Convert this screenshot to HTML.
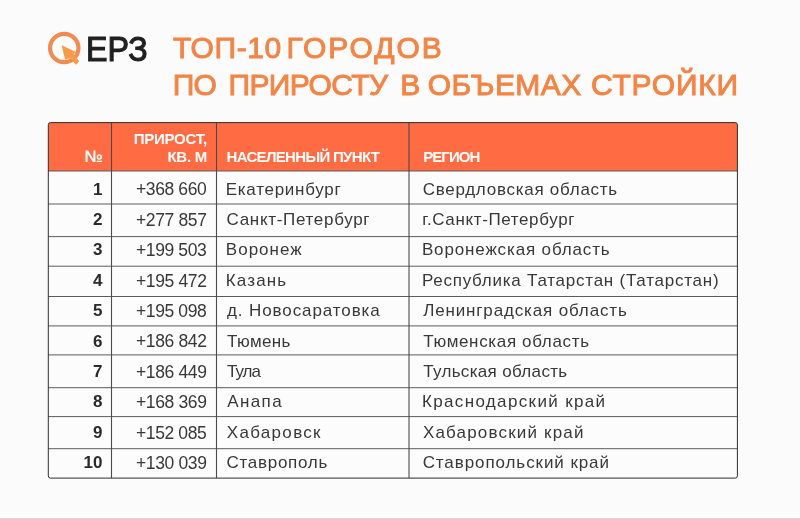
<!DOCTYPE html>
<html lang="ru"><head><meta charset="utf-8"><title>ТОП-10 городов по приросту в объемах стройки</title>
<style>
html,body{margin:0;padding:0;}
body{width:800px;height:519px;background:#fbfbfb;position:relative;overflow:hidden;font-family:"Liberation Sans",sans-serif;}
.a{position:absolute;white-space:nowrap;margin:0;padding:0;}
h1{margin:0;padding:0;font-size:0;line-height:0;height:0;}
.title{color:#F28546;font-weight:normal;-webkit-text-stroke:0.95px #F28546;font-size:30px;line-height:36px;}
.logo-text{left:86.2px;top:29.2px;font-size:35.6px;line-height:40px;color:#202020;font-weight:normal;-webkit-text-stroke:1.1px #202020;transform-origin:0 0;transform:scaleX(0.906);}
.h{color:#fff;font-weight:bold;font-size:15px;line-height:18px;}
.r{font-size:17px;line-height:30px;height:30px;color:#383838;}
.n{font-weight:bold;text-align:right;color:#2a2a2a;}
.p{text-align:right;font-size:17.5px;}
svg{position:absolute;left:0;top:0;}
</style></head><body>

<svg width="800" height="519" viewBox="0 0 800 519">
<rect x="0" y="518" width="800" height="1" fill="#d6d6d6"/>
<rect x="48.3" y="122.6" width="689.1" height="355.5" rx="2.2" ry="2.2" fill="#fcfcfc"/>
<path d="M48.3 171.0 V124.8 Q48.3 122.6 50.5 122.6 H735.2 Q737.4 122.6 737.4 124.8 V171.0 Z" fill="#FF6B42"/>
<line x1="48.3" x2="737.4" y1="171.0" y2="171.0" stroke="#5c5c5c" stroke-width="1"/>
<line x1="48.3" x2="737.4" y1="204.0" y2="204.0" stroke="#5c5c5c" stroke-width="1"/>
<line x1="48.3" x2="737.4" y1="236.6" y2="236.6" stroke="#5c5c5c" stroke-width="1"/>
<line x1="48.3" x2="737.4" y1="266.2" y2="266.2" stroke="#5c5c5c" stroke-width="1"/>
<line x1="48.3" x2="737.4" y1="296.5" y2="296.5" stroke="#5c5c5c" stroke-width="1"/>
<line x1="48.3" x2="737.4" y1="325.9" y2="325.9" stroke="#5c5c5c" stroke-width="1"/>
<line x1="48.3" x2="737.4" y1="354.9" y2="354.9" stroke="#5c5c5c" stroke-width="1"/>
<line x1="48.3" x2="737.4" y1="387.7" y2="387.7" stroke="#5c5c5c" stroke-width="1"/>
<line x1="48.3" x2="737.4" y1="416.6" y2="416.6" stroke="#5c5c5c" stroke-width="1"/>
<line x1="48.3" x2="737.4" y1="448.7" y2="448.7" stroke="#5c5c5c" stroke-width="1"/>
<line x1="111.5" x2="111.5" y1="122.6" y2="478.1" stroke="#4c4c4c" stroke-width="1.1"/>
<line x1="216.5" x2="216.5" y1="122.6" y2="478.1" stroke="#4c4c4c" stroke-width="1.1"/>
<line x1="409.0" x2="409.0" y1="122.6" y2="478.1" stroke="#4c4c4c" stroke-width="1.1"/>
<rect x="48.3" y="122.6" width="689.1" height="355.5" rx="2.2" ry="2.2" fill="none" stroke="#2e2e2e" stroke-width="1"/>
<circle cx="64.25" cy="48" r="14.2" fill="none" stroke="#F28B52" stroke-width="4.2"/>
<path d="M61.7 45.3 L76 52 L73.6 54.3 L79.2 61.3 L76.2 64.7 L69.6 58.2 L65 59.6 Z" fill="#F79B48"/>
</svg>
<div class="a logo-text" id="logo">ЕРЗ</div>
<h1><span class="a title" id="t1a" style="left:173.00px;top:29.7px;letter-spacing:0.6px">ТОП-10</span> <span class="a title" id="t1b" style="left:286.40px;top:29.7px;letter-spacing:1.975px">ГОРОДОВ</span> <br> <span class="a title" id="t2a" style="left:172.75px;top:67.3px;letter-spacing:-0.75px">ПО</span> <span class="a title" id="t2b" style="left:228.50px;top:67.3px;letter-spacing:-0.621px">ПРИРОСТУ</span> <span class="a title" id="t2c" style="left:400.35px;top:67.3px;letter-spacing:-7.35px">В</span> <span class="a title" id="t2d" style="left:427.75px;top:67.3px;letter-spacing:0.458px">ОБЪЕМАХ</span> <span class="a title" id="t2e" style="left:591.00px;top:67.3px;letter-spacing:0.808px">СТРОЙКИ</span></h1>
<div class="a h" id="h1" style="right:697px;top:145.5px;font-size:16.5px;line-height:20px">№</div>
<div class="a h" id="h2" style="right:593.00px;top:130px;text-align:right;letter-spacing:-0.25px">ПРИРОСТ,<br>КВ. М</div>
<div class="a h" id="h3" style="left:226.55px;top:147.5px;letter-spacing:-0.683px">НАСЕЛЕННЫЙ ПУНКТ</div>
<div class="a h" id="h4" style="left:423.25px;top:147.5px;letter-spacing:-0.96px">РЕГИОН</div>
<div class="a r n" id="n0" style="right:697.50px;top:174.61px;letter-spacing:0.0px">1</div>
<div class="a r p" id="p0" style="right:593.70px;top:174.44px;letter-spacing:-0.4px">+368 660</div>
<div class="a r" id="c0" style="left:225.75px;top:174.61px;letter-spacing:0.727px">Екатеринбург</div>
<div class="a r" id="g0" style="left:422.65px;top:174.61px;letter-spacing:0.734px">Свердловская область</div>
<div class="a r n" id="n1" style="right:697.50px;top:205.00px;letter-spacing:0.0px">2</div>
<div class="a r p" id="p1" style="right:593.45px;top:204.83px;letter-spacing:-0.364px">+277 857</div>
<div class="a r" id="c1" style="left:226.50px;top:205.00px;letter-spacing:0.696px">Санкт-Петербург</div>
<div class="a r" id="g1" style="left:422.15px;top:205.00px;letter-spacing:0.631px">г.Санкт-Петербург</div>
<div class="a r n" id="n2" style="right:697.50px;top:235.39px;letter-spacing:0.0px">3</div>
<div class="a r p" id="p2" style="right:593.70px;top:235.22px;letter-spacing:-0.4px">+199 503</div>
<div class="a r" id="c2" style="left:225.75px;top:235.39px;letter-spacing:1.042px">Воронеж</div>
<div class="a r" id="g2" style="left:421.90px;top:235.39px;letter-spacing:0.858px">Воронежская область</div>
<div class="a r n" id="n3" style="right:697.50px;top:265.78px;letter-spacing:0.0px">4</div>
<div class="a r p" id="p3" style="right:593.45px;top:265.61px;letter-spacing:-0.364px">+195 472</div>
<div class="a r" id="c3" style="left:225.75px;top:265.78px;letter-spacing:1.15px">Казань</div>
<div class="a r" id="g3" style="left:421.90px;top:265.78px;letter-spacing:0.758px">Республика Татарстан (Татарстан)</div>
<div class="a r n" id="n4" style="right:697.50px;top:296.17px;letter-spacing:0.0px">5</div>
<div class="a r p" id="p4" style="right:593.70px;top:296.00px;letter-spacing:-0.4px">+195 098</div>
<div class="a r" id="c4" style="left:227.00px;top:296.17px;letter-spacing:0.9px">д. Новосаратовка</div>
<div class="a r" id="g4" style="left:423.15px;top:296.17px;letter-spacing:0.855px">Ленинградская область</div>
<div class="a r n" id="n5" style="right:697.50px;top:326.56px;letter-spacing:0.0px">6</div>
<div class="a r p" id="p5" style="right:593.45px;top:326.39px;letter-spacing:-0.364px">+186 842</div>
<div class="a r" id="c5" style="left:227.00px;top:326.56px;letter-spacing:0.35px">Тюмень</div>
<div class="a r" id="g5" style="left:423.15px;top:326.56px;letter-spacing:0.656px">Тюменская область</div>
<div class="a r n" id="n6" style="right:697.50px;top:356.95px;letter-spacing:0.0px">7</div>
<div class="a r p" id="p6" style="right:593.45px;top:356.78px;letter-spacing:-0.364px">+186 449</div>
<div class="a r" id="c6" style="left:227.00px;top:356.95px;letter-spacing:-1.0px">Тула</div>
<div class="a r" id="g6" style="left:423.15px;top:356.95px;letter-spacing:0.34px">Тульская область</div>
<div class="a r n" id="n7" style="right:697.50px;top:387.34px;letter-spacing:0.0px">8</div>
<div class="a r p" id="p7" style="right:593.45px;top:387.17px;letter-spacing:-0.364px">+168 369</div>
<div class="a r" id="c7" style="left:227.25px;top:387.34px;letter-spacing:1.375px">Анапа</div>
<div class="a r" id="g7" style="left:421.90px;top:387.34px;letter-spacing:1.359px">Краснодарский край</div>
<div class="a r n" id="n8" style="right:697.50px;top:417.73px;letter-spacing:0.0px">9</div>
<div class="a r p" id="p8" style="right:593.70px;top:417.56px;letter-spacing:-0.4px">+152 085</div>
<div class="a r" id="c8" style="left:226.75px;top:417.73px;letter-spacing:1.312px">Хабаровск</div>
<div class="a r" id="g8" style="left:422.90px;top:417.73px;letter-spacing:1.183px">Хабаровский край</div>
<div class="a r n" id="n9" style="right:697.50px;top:448.12px;letter-spacing:0.0px">10</div>
<div class="a r p" id="p9" style="right:593.45px;top:447.95px;letter-spacing:-0.364px">+130 039</div>
<div class="a r" id="c9" style="left:226.50px;top:448.12px;letter-spacing:0.722px">Ставрополь</div>
<div class="a r" id="g9" style="left:422.65px;top:448.12px;letter-spacing:0.917px">Ставропольский край</div>
</body></html>
